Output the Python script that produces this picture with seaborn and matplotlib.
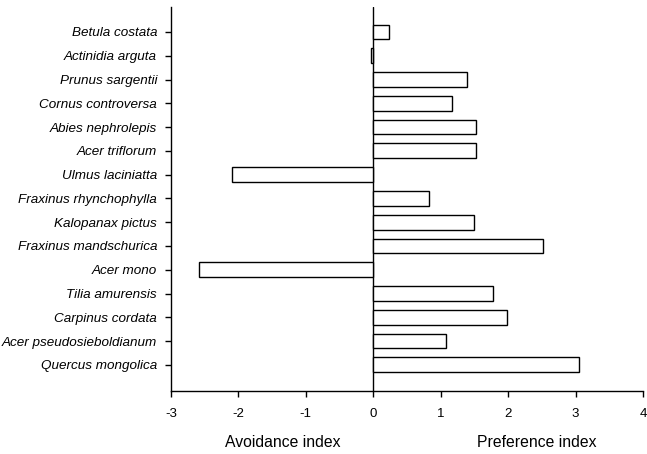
import matplotlib
matplotlib.use("Agg")
import matplotlib.pyplot as plt
import seaborn as sns
import pandas as pd

species = ["Betula costata", "Actinidia arguta", "Prunus sargentii", "Cornus controversa",
           "Abies nephrolepis", "Acer triflorum", "Ulmus laciniatta", "Fraxinus rhynchophylla",
           "Kalopanax pictus", "Fraxinus mandschurica", "Acer mono", "Tilia amurensis",
           "Carpinus cordata", "Acer pseudosieboldianum", "Quercus mongolica"]
index_values = [0.23, -0.04, 1.39, 1.17, 1.53, 1.52, -2.09, 0.83, 1.50, 2.52, -2.59, 1.77,
                1.99, 1.08, 3.05]
x_ticks = [-3, -2, -1, 0, 1, 2, 3, 4]
x_labels = ["-3", "-2", "-1", "0", "1", "2", "3", "4"]

df = pd.DataFrame({"species": species, "value": index_values})

sns.set_style("white")
plt.rcParams["font.family"] = ["Liberation Sans", "DejaVu Sans"]
plt.rcParams["text.color"] = "black"
plt.rcParams["xtick.color"] = "black"
plt.rcParams["ytick.color"] = "black"
plt.rcParams["axes.labelcolor"] = "black"

fig = plt.figure(figsize=(6.47, 4.54), dpi=100)
ax = fig.add_axes([171 / 647, 1 - 391 / 454, (643 - 171) / 647, (391 - 7) / 454])

sns.barplot(data=df, x="value", y="species", orient="h", color="white",
            edgecolor="black", linewidth=1.0, width=0.62, ax=ax, saturation=1)

n = len(species)
ax.set_xlim(-3, 4)
ax.set_ylim(n - 1 + 1.1, -1.05)
ax.axvline(0, color="black", linewidth=1.0, zorder=0)

ax.set_xticks(x_ticks)
ax.set_xticklabels(x_labels, fontsize=9.5, color="black")
ax.set_yticks(range(n))
ax.set_yticklabels(species, fontsize=9.7, style="italic", color="black")
ax.set_xlabel("")
ax.set_ylabel("")
ax.tick_params(axis="both", direction="out", length=4, width=1.0, color="black",
               bottom=True, left=True)
ax.tick_params(axis="x", pad=8)
ax.tick_params(axis="y", pad=6)

for side in ["top", "right"]:
    ax.spines[side].set_visible(False)
for side in ["left", "bottom"]:
    ax.spines[side].set_visible(True)
    ax.spines[side].set_color("black")
    ax.spines[side].set_linewidth(1.0)

tr = ax.get_xaxis_transform()
ax.text(-1.34, -0.135, "Avoidance index", transform=tr, ha="center", va="center",
        fontsize=11.3, color="black")
ax.text(2.43, -0.135, "Preference index", transform=tr, ha="center", va="center",
        fontsize=11.3, color="black")

fig.savefig("out.png", dpi=100)
